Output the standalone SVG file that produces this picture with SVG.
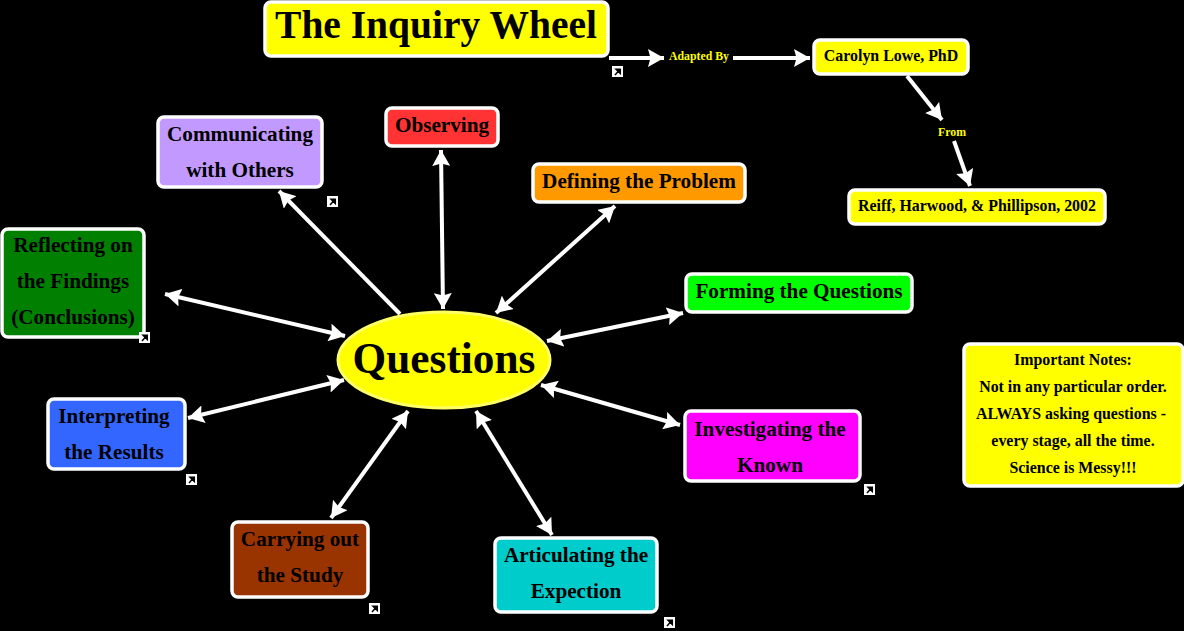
<svg xmlns="http://www.w3.org/2000/svg" width="1184" height="631" viewBox="0 0 1184 631">
<style>
text{font-family:"Liberation Serif","Times New Roman",serif;font-weight:bold;text-anchor:middle;fill:#000}
.b{stroke:#fff;stroke-width:3.5}
.t20{font-size:21.2px}.t15{font-size:15.9px}
.c{stroke:#fff;stroke-width:4;fill:none}
.i{fill:#fff}
</style>
<defs>
<marker id="a" markerUnits="userSpaceOnUse" markerWidth="18" markerHeight="18" refX="16" refY="9" orient="auto-start-reverse" viewBox="0 0 18 18"><path d="M0 0L16 9L0 18L2.5 9Z" fill="#fff"/></marker>
<g id="ic"><rect width="11" height="11" class="i"/><path d="M3 9L7 4.5M4 3.2H8.3V7.5Z" stroke="#000" stroke-width="1.5" fill="#000"/></g>
</defs>
<rect width="1184" height="631" fill="#000"/>
<g id="connectors">
<path class="c" d="M609 58H664" marker-end="url(#a)"/>
<path class="c" d="M733 58H810" marker-end="url(#a)"/>
<path class="c" d="M907 76L942 120" marker-end="url(#a)"/>
<path class="c" d="M954 141L970 186" marker-end="url(#a)"/>
<path class="c" d="M400 314L279 191" marker-end="url(#a)"/>
<path class="c" d="M443 309L441 150" marker-start="url(#a)" marker-end="url(#a)"/>
<path class="c" d="M496 313L615 206" marker-start="url(#a)" marker-end="url(#a)"/>
<path class="c" d="M547 341L683 313" marker-start="url(#a)" marker-end="url(#a)"/>
<path class="c" d="M541 385L680 425" marker-start="url(#a)" marker-end="url(#a)"/>
<path class="c" d="M476 411L552 535" marker-start="url(#a)" marker-end="url(#a)"/>
<path class="c" d="M408 411L331 518" marker-start="url(#a)" marker-end="url(#a)"/>
<path class="c" d="M344 380L188 418" marker-start="url(#a)" marker-end="url(#a)"/>
<path class="c" d="M345 336L165 294" marker-start="url(#a)" marker-end="url(#a)"/>
</g>
<g id="title"><rect class="b" x="265" y="2" width="343" height="54" rx="6" fill="#ff0"/><text x="436" y="38" font-size="39.5">The Inquiry Wheel</text></g>
<g id="adapted"><text x="699" y="60" font-size="11.8" style="fill:#ff0">Adapted By</text></g>
<g id="lowe"><rect class="b" x="814" y="40" width="154" height="34" rx="6" fill="#ff0"/><text x="891" y="61" class="t15">Carolyn Lowe, PhD</text></g>
<g id="from"><text x="952" y="136" font-size="11.8" style="fill:#ff0">From</text></g>
<g id="reiff"><rect class="b" x="849" y="190" width="256" height="34" rx="6" fill="#ff0"/><text x="977" y="211" class="t15">Reiff, Harwood, &amp; Phillipson, 2002</text></g>
<g id="communicating"><rect class="b" x="158" y="117" width="164" height="70" rx="6" fill="#c299ff"/><text x="240" y="141" class="t20">Communicating</text><text x="240" y="177" class="t20">with Others</text></g>
<g id="observing"><rect class="b" x="386" y="108" width="112" height="38" rx="6" fill="#ff3333"/><text x="442" y="132" class="t20">Observing</text></g>
<g id="defining"><rect class="b" x="533" y="164" width="212" height="38" rx="6" fill="#ff9900"/><text x="639" y="188" class="t20">Defining the Problem</text></g>
<g id="forming"><rect class="b" x="686" y="274" width="226" height="38" rx="6" fill="#00ff00"/><text x="799" y="298" class="t20">Forming the Questions</text></g>
<g id="investigating"><rect class="b" x="685" y="411" width="175" height="70" rx="6" fill="#ff00ff"/><text x="770" y="436" class="t20">Investigating the</text><text x="770" y="472" class="t20">Known</text></g>
<g id="articulating"><rect class="b" x="495" y="538" width="162" height="74" rx="6" fill="#00cccc"/><text x="576" y="562" class="t20">Articulating the</text><text x="576" y="598" class="t20">Expection</text></g>
<g id="carrying"><rect class="b" x="232" y="522" width="136" height="75" rx="6" fill="#993300"/><text x="300" y="546" class="t20">Carrying out</text><text x="300" y="582" class="t20">the Study</text></g>
<g id="interpreting"><rect class="b" x="48" y="399" width="137" height="70" rx="6" fill="#3366ff"/><text x="114" y="423" class="t20">Interpreting</text><text x="114" y="459" class="t20">the Results</text></g>
<g id="reflecting"><rect class="b" x="2" y="229" width="142" height="108" rx="6" fill="#007f00"/><text x="73" y="252" class="t20">Reflecting on</text><text x="73" y="288" class="t20">the Findings</text><text x="73" y="324" class="t20">(Conclusions)</text></g>
<g id="questions"><ellipse cx="444" cy="360" rx="106" ry="48" fill="#ff0" stroke="#ffff66" stroke-width="3"/><text x="444" y="373" font-size="43.3">Questions</text></g>
<g id="notes"><rect class="b" x="964" y="344" width="219" height="142" rx="6" fill="#ff0"/><text x="1073" y="365" class="t15">Important Notes:</text><text x="1073" y="392" class="t15">Not in any particular order.</text><text x="1071" y="419" class="t15">ALWAYS asking questions -</text><text x="1073" y="446" class="t15">every stage, all the time.</text><text x="1073" y="473" class="t15">Science is Messy!!!</text></g>
<g id="icons">
<use href="#ic" x="612" y="66"/><use href="#ic" x="327" y="196"/><use href="#ic" x="139" y="332"/><use href="#ic" x="186" y="474"/><use href="#ic" x="369" y="603"/><use href="#ic" x="664" y="617"/><use href="#ic" x="864" y="484"/>
</g>
</svg>
